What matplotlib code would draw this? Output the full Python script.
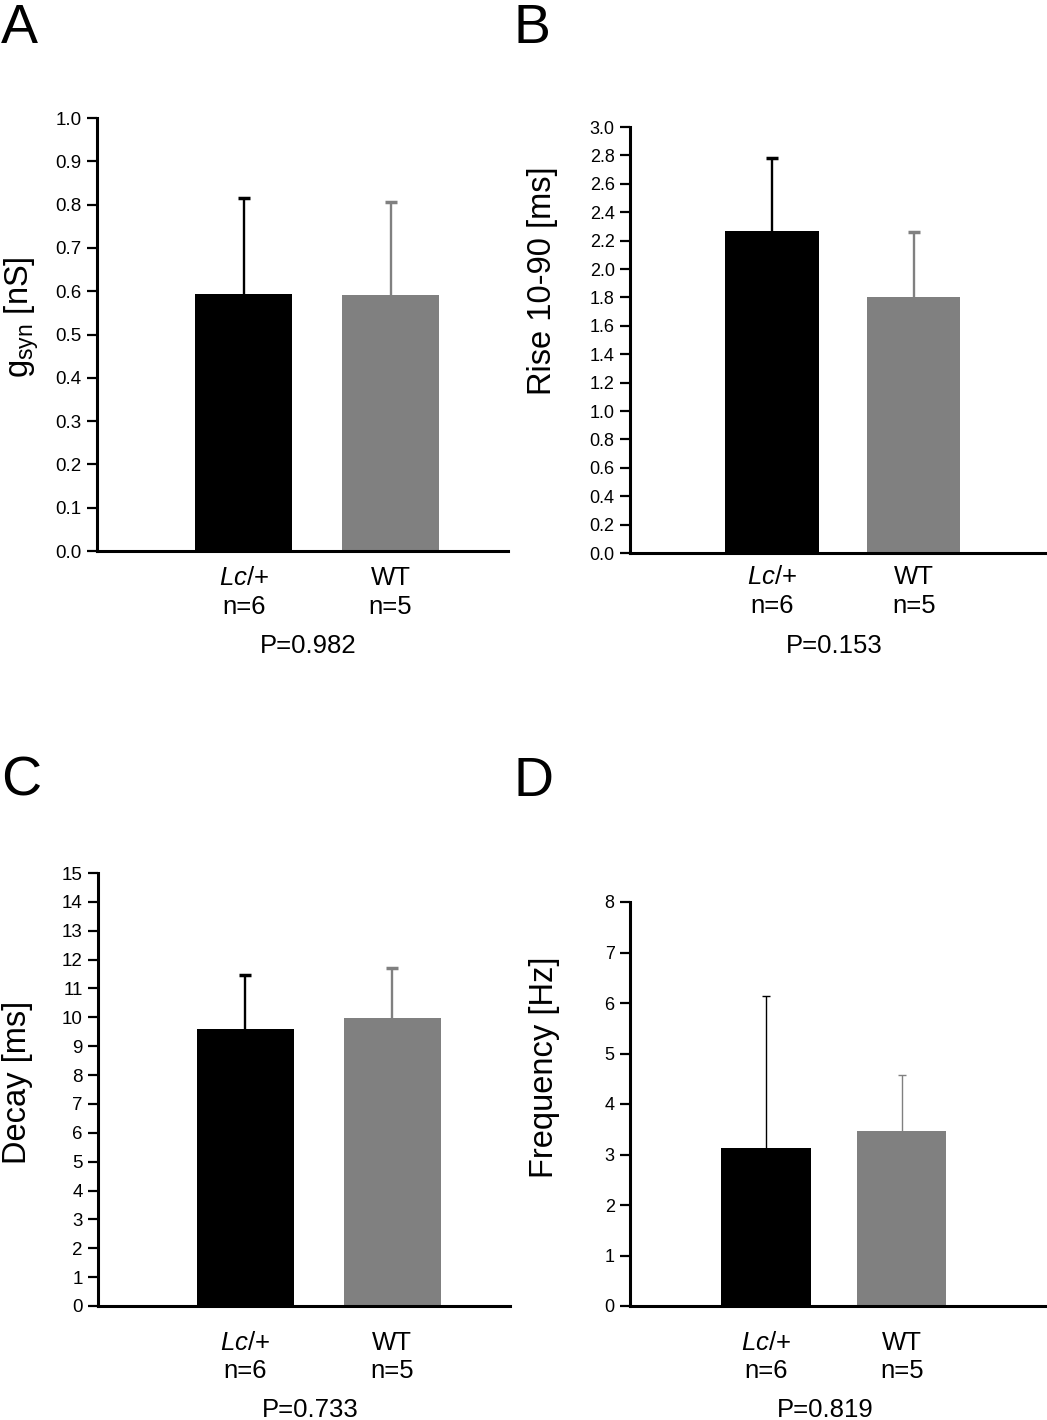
import matplotlib
matplotlib.use("Agg")
import matplotlib.pyplot as plt
import matplotlib.transforms as mtransforms

plt.rcParams['font.family'] = ['Liberation Sans', 'DejaVu Sans']
plt.rcParams['mathtext.fontset'] = 'custom'
plt.rcParams['mathtext.rm'] = 'Liberation Sans'
plt.rcParams['mathtext.it'] = 'Liberation Sans:italic'

# данные
groups = ["Lc/+", "WT"]
n_labels = ["n=6", "n=5"]

gsyn_mean = [0.594, 0.591]
gsyn_top = [0.816, 0.805]

rise_mean = [2.265, 1.800]
rise_top = [2.783, 2.258]

decay_mean = [9.59, 9.99]
decay_top = [11.46, 11.70]

freq_mean = [3.12, 3.46]
freq_top = [6.13, 4.57]

p_values = ["P=0.982", "P=0.153", "P=0.733", "P=0.819"]

W, H = 1047, 1420
fig = plt.figure(figsize=(W / 100, H / 100), dpi=100)


def px_axes(left, right, top, bottom):
    return fig.add_axes([left / W, 1 - bottom / H, (right - left) / W, (bottom - top) / H])


def panel(ax, means, tops, ymax, yticks, fmt, ylabel, label_xy, letter, letter_xy,
          text_y, p_text, thin=False, tick_size=13.5, xmax=2.8):
    colors = ["black", "#808080"]
    x = [1, 2]
    ax.bar(x, means, width=0.66, color=colors, zorder=2)
    lw = 1.0 if thin else 1.7
    # только верхняя половина планки погрешности
    ax.vlines(x, means, tops, colors=colors, lw=lw, zorder=1)
    for xi, t, c in zip(x, tops, colors):
        ax.plot([xi], [t], marker="_", ms=6 if thin else 9, mew=1.0 if thin else 2.5,
                color=c, zorder=1)
    ax.set_xlim(0, xmax)
    ax.set_ylim(0, ymax)
    ax.set_yticks(yticks)
    ax.set_yticklabels([fmt.format(v) for v in yticks], fontsize=tick_size)
    ax.set_xticks([])
    for s in ["top", "right"]:
        ax.spines[s].set_visible(False)
    ax.spines["left"].set_linewidth(2.2)
    ax.spines["bottom"].set_linewidth(2.2)
    ax.tick_params(axis="y", direction="out", length=7, width=1.6, pad=4)
    ax.patch.set_alpha(0)

    fig.text(label_xy[0] / W, 1 - label_xy[1] / H, ylabel, rotation=90,
             ha="center", va="center", fontsize=23.5)
    fig.text(letter_xy[0] / W, 1 - letter_xy[1] / H, letter, ha="left", va="baseline",
             fontsize=40)

    tr = mtransforms.blended_transform_factory(ax.transData, fig.transFigure)
    g_labels = [r"$\mathit{Lc}$/+", "WT"]
    for xi, g, n in zip(x, g_labels, n_labels):
        ax.text(xi, 1 - text_y[0] / H, g, transform=tr, ha="center", va="center", fontsize=18.5)
        ax.text(xi, 1 - text_y[1] / H, n, transform=tr, ha="center", va="center", fontsize=18.5)
    ax.text(1.44, 1 - text_y[2] / H, p_text, transform=tr, ha="center", va="center", fontsize=18.5)


axA = px_axes(97, 508, 118, 551)
panel(axA, gsyn_mean, gsyn_top, 1.0, [i / 10 for i in range(11)], "{:.1f}",
      r"g$_{\mathregular{syn}}$ [nS]", (22, 317), "A", (1, 43), (578, 607, 646), p_values[0])

axB = px_axes(630, 1047, 127, 553)
panel(axB, rise_mean, rise_top, 3.0, [i / 5 for i in range(16)], "{:.1f}",
      "Rise 10-90 [ms]", (542, 281), "B", (514, 43), (577, 606, 646), p_values[1],
      tick_size=13, xmax=2.94)

axC = px_axes(98, 510, 873, 1306)
panel(axC, decay_mean, decay_top, 15, list(range(16)), "{:d}",
      "Decay [ms]", (18, 1082), "C", (1, 796), (1343, 1371, 1410), p_values[2])

axD = px_axes(630, 1047, 902, 1306)
panel(axD, freq_mean, freq_top, 8, list(range(9)), "{:d}",
      "Frequency [Hz]", (545, 1067), "D", (514, 796), (1343, 1371, 1410), p_values[3],
      thin=True, tick_size=13, xmax=3.07)

plt.savefig("out.png", dpi=100)
